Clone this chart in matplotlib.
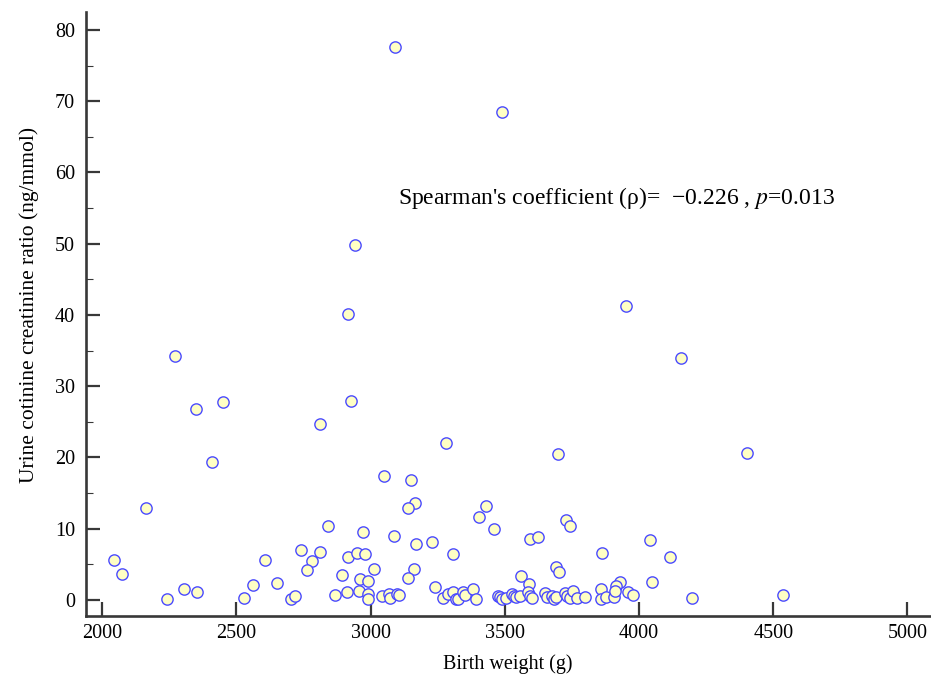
import numpy as np
import matplotlib
matplotlib.use("Agg")
import matplotlib.pyplot as plt
from matplotlib.ticker import MultipleLocator

plt.rcParams['font.family'] = ['Liberation Serif', 'DejaVu Serif']
plt.rcParams['mathtext.fontset'] = 'stix'

# Birth weight (g) and urine cotinine creatinine ratio (ng/mmol)
birth_weight = [
    3091, 3489, 2942, 3950, 2916, 4155, 2272, 2350, 2450, 2927,
    2811, 3280, 3697, 4401, 2409, 3050, 3150, 3165, 3139, 2164,
    3429, 3403, 3459, 3727, 3742, 2841, 2971, 3087, 3593, 3623,
    3228, 4040, 3171, 3308, 2740, 2810, 2782, 2762, 2916, 2950,
    2980, 3012, 2892, 2961, 2991, 3160, 3140, 3239, 2044, 2073,
    2242, 2306, 2352, 2530, 2562, 2607, 2653, 2702, 2719, 2867,
    2912, 2957, 2991, 2991, 3041, 3069, 3072, 3100, 3104, 3270,
    3289, 3308, 3320, 3326, 3343, 3352, 3380, 3392, 3862, 4116,
    3690, 3700, 3559, 3589, 4050, 3928, 3913, 3473, 3481, 3490,
    3506, 3525, 3533, 3543, 3556, 3586, 3593, 3603, 3648, 3656,
    3675, 3682, 3692, 3724, 3732, 3742, 3754, 3769, 3799, 3860,
    3860, 3876, 3908, 3912, 3959, 3979, 4197, 4538,
]
cotinine_ratio = [
    77.6, 68.5, 49.8, 41.3, 40.1, 34.0, 34.2, 26.8, 27.8, 27.9,
    24.7, 22.0, 20.5, 20.6, 19.4, 17.4, 16.8, 13.6, 12.9, 12.9,
    13.2, 11.6, 10.0, 11.2, 10.4, 10.4, 9.5, 9.0, 8.6, 8.8,
    8.1, 8.4, 7.9, 6.5, 7.0, 6.7, 5.5, 4.2, 6.1, 6.6,
    6.5, 4.4, 3.5, 3.0, 2.6, 4.4, 3.1, 1.8, 5.6, 3.7,
    0.1, 1.6, 1.1, 0.3, 2.1, 5.6, 2.4, 0.1, 0.5, 0.7,
    1.1, 1.2, 0.9, 0.2, 0.6, 0.9, 0.3, 0.9, 0.7, 0.3,
    0.8, 1.1, 0.2, 0.1, 1.1, 0.7, 1.5, 0.1, 6.6, 6.1,
    4.7, 3.9, 3.4, 2.2, 2.5, 2.5, 2.0, 0.6, 0.4, 0.1,
    0.3, 0.8, 0.6, 0.4, 0.5, 1.1, 0.5, 0.3, 1.0, 0.4,
    0.5, 0.1, 0.4, 1.0, 0.5, 0.3, 1.3, 0.3, 0.4, 1.6,
    0.1, 0.4, 0.4, 1.2, 1.1, 0.7, 0.3, 0.7,
]

fig = plt.figure(figsize=(9.31, 6.74), dpi=100)
ax = fig.add_axes([0.0924, 0.086, 0.906, 0.896])

ax.scatter(birth_weight, cotinine_ratio, s=66, facecolor='#ffffc4',
           edgecolor='#4a4aff', linewidth=1.0, zorder=3, clip_on=False)

ax.set_xlim(1940, 5082)
ax.set_ylim(-2.25, 82.5)

# Axis styling: only left and bottom spines, ticks pointing inwards
for side in ['top', 'right']:
    ax.spines[side].set_visible(False)
for side in ['left', 'bottom']:
    ax.spines[side].set_color('#383838')
    ax.spines[side].set_linewidth(1.9)

ax.xaxis.set_major_locator(MultipleLocator(500))
ax.yaxis.set_major_locator(MultipleLocator(10))
ax.yaxis.set_minor_locator(MultipleLocator(5))
ax.tick_params(axis='both', which='major', direction='in', length=10,
               width=1.6, color='#383838', labelsize=14.5, pad=6)
ax.tick_params(axis='y', which='minor', direction='in', length=5,
               width=0.8, color='#383838')
ax.tick_params(axis='y', which='major', pad=8)

ax.set_xlabel('Birth weight (g)', fontsize=14.5, labelpad=8)
ax.set_ylabel('Urine cotinine creatinine ratio (ng/mmol)', fontsize=15.5)
ax.yaxis.set_label_coords(-0.056, 0.515)

ax.text(3102, 56.4, "Spearman's coefficient (ρ)=  \u22120.226 , $p$=0.013",
        fontsize=17, va='center', ha='left')

fig.savefig('out.png', dpi=100)
